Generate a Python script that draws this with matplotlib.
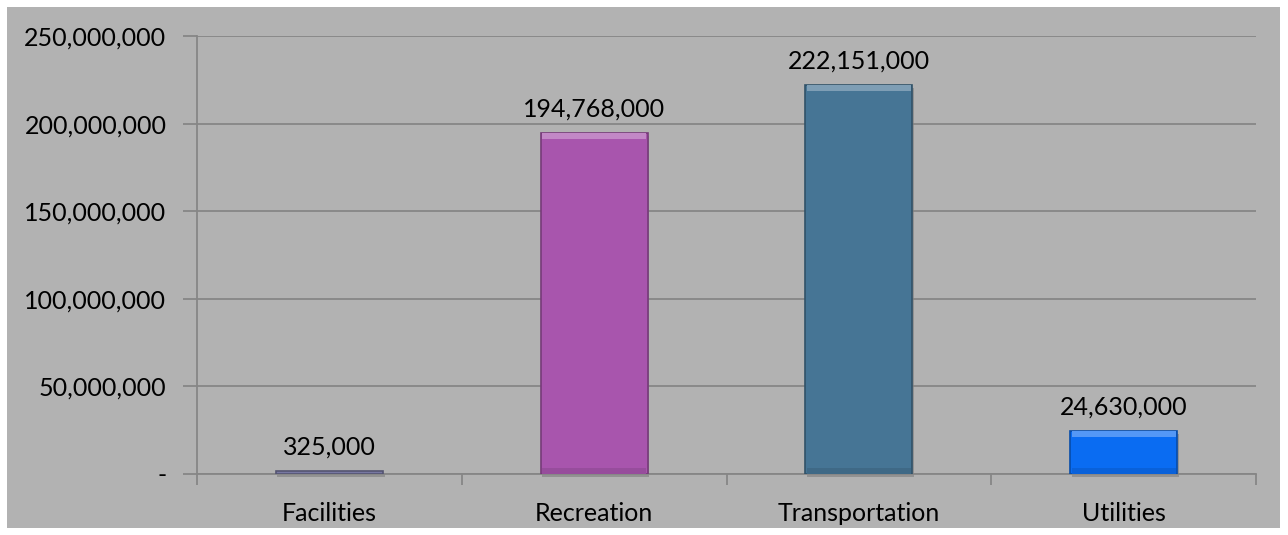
import matplotlib
matplotlib.use('Agg')
import matplotlib.pyplot as plt
import matplotlib.colors as mcolors
import numpy as np
from matplotlib.patches import Rectangle
from matplotlib.ticker import FuncFormatter

categories = ['Facilities', 'Recreation', 'Transportation', 'Utilities']
values = [325000, 194768000, 222151000, 24630000]
colors = ['#7878a2', '#a855ad', '#467595', '#0a6cf2']
y_ticks = [0, 50000000, 100000000, 150000000, 200000000, 250000000]

plt.rcParams['font.family'] = ['Lato', 'DejaVu Sans']


def mix(c, other, t):
    a = np.array(mcolors.to_rgb(c))
    b = np.array(mcolors.to_rgb(other))
    return tuple(a * (1 - t) + b * t)


fig = plt.figure(figsize=(12.88, 5.35), dpi=100)
fig.patch.set_facecolor('white')
# gray chart area with thin white border
fig.patches.append(Rectangle((7 / 1288, 7 / 535), 1273 / 1288, 521 / 535,
                             transform=fig.transFigure, facecolor='#b2b2b2',
                             edgecolor='none', zorder=-1))

ax = fig.add_axes([197 / 1288, 1 - 474 / 535, 1059 / 1288, 438 / 535])
ax.set_zorder(1)
ax.set_facecolor('none')

x = np.arange(len(categories))
w = 0.405
px = 250000000 / 438  # data units per pixel

# soft drop shadow
ax.bar(x + 0.006, np.maximum(values, 3 * px), bottom=-3 * px, width=w,
       color='#7e7e7e', alpha=0.6, linewidth=0, zorder=2, clip_on=False)
# bar bodies (at least a couple of pixels tall, like the original)
heights = np.maximum(values, 3 * px)
edges = [mix(c, 'black', 0.3) for c in colors]
ax.bar(x, heights, width=w, color=colors, edgecolor=edges,
       linewidth=1.2, zorder=3)
# bevel: light band on top, darker band at base
bevel = 6 * px
for xi, h, c in zip(x, heights, colors):
    if h > 3 * bevel:
        ax.bar(xi, bevel, bottom=h - bevel, width=w * 0.97,
               color=mix(c, 'white', 0.3), linewidth=0, zorder=4)
        ax.bar(xi, bevel, bottom=0, width=w * 0.97,
               color=mix(c, 'black', 0.1), linewidth=0, zorder=4)

for xi, v, h in zip(x, values, heights):
    ax.annotate(f'{v:,}', (xi, h), xytext=(0, 9), textcoords='offset points',
                ha='center', va='bottom', fontsize=18, color='black')

ax.set_xlim(-0.5, len(categories) - 0.5)
ax.set_ylim(0, 250000000)
ax.set_yticks(y_ticks)
ax.yaxis.set_major_formatter(FuncFormatter(lambda v, p: '-' if v == 0 else f'{int(v):,}'))
ax.grid(axis='y', color='#868686', linewidth=1.3, zorder=0)
ax.set_axisbelow(True)

ax.set_xticks(np.arange(len(categories) + 1) - 0.5, minor=False)
ax.set_xticklabels([])
ax.set_xticks(x, minor=True)
ax.set_xticklabels(categories, minor=True)
ax.tick_params(axis='x', which='major', length=8, width=1.3, color='#868686')
ax.tick_params(axis='x', which='minor', length=0, pad=20, labelsize=18)
ax.tick_params(axis='y', length=10, width=1.3, color='#868686', pad=12, labelsize=18)

for s in ['top', 'right']:
    ax.spines[s].set_visible(False)
ax.spines['left'].set_color('#868686')
ax.spines['left'].set_linewidth(1.3)
ax.spines['bottom'].set_color('#868686')
ax.spines['bottom'].set_linewidth(1.3)

fig.savefig('out.png', dpi=100, facecolor=fig.get_facecolor())
